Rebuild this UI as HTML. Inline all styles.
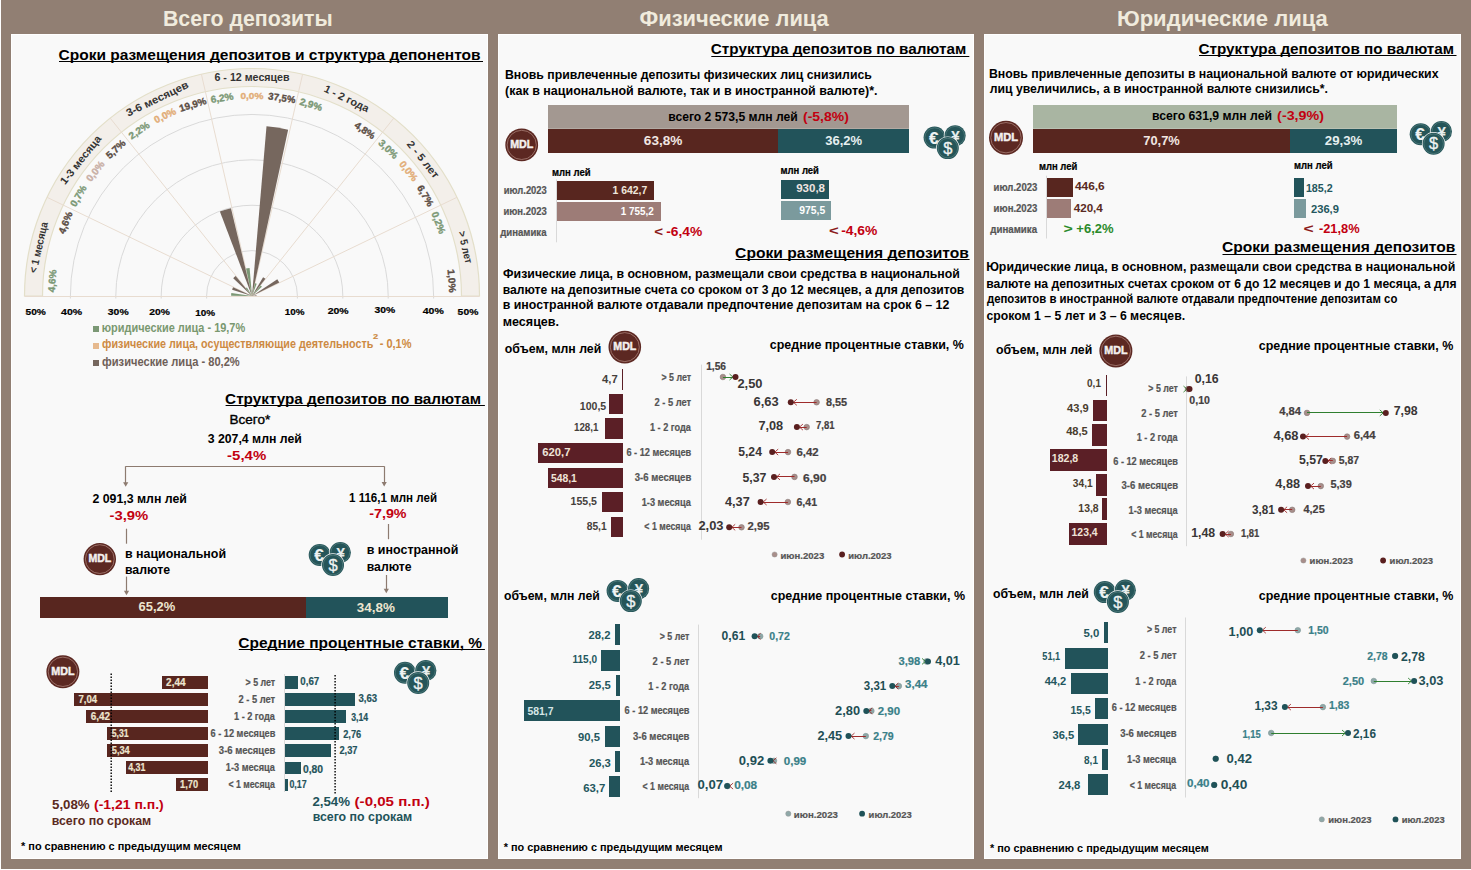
<!DOCTYPE html>
<html><head><meta charset="utf-8"><title>Депозиты</title>
<style>
html,body{margin:0;padding:0;background:#ffffff;}
body{width:1471px;height:870px;overflow:hidden;}
svg{display:block;font-family:"Liberation Sans",sans-serif;font-weight:700;}
</style></head><body>
<svg width="1471" height="870" viewBox="0 0 1471 870">
<rect shape-rendering="crispEdges" x="1.0" y="0.0" width="1470.0" height="869.0" fill="#917f73" />
<rect x="11.5" y="34.5" width="476" height="824" fill="#f9f9f9" stroke="#ffffff" stroke-width="1"/>
<rect x="498.5" y="34.5" width="475" height="824" fill="#f9f9f9" stroke="#ffffff" stroke-width="1"/>
<rect x="984.5" y="34.5" width="476" height="824" fill="#f9f9f9" stroke="#ffffff" stroke-width="1"/>
<text x="162.97" y="25.8" font-size="21.5" fill="#f0ebdd" textLength="169.75" lengthAdjust="spacingAndGlyphs" >Всего депозиты</text>
<text x="639.52" y="25.6" font-size="21.5" fill="#f0ebdd" textLength="189.25" lengthAdjust="spacingAndGlyphs" >Физические лица</text>
<text x="1116.92" y="25.6" font-size="21.5" fill="#f0ebdd" textLength="210.94" lengthAdjust="spacingAndGlyphs" >Юридические лица</text>
<text x="58.52" y="59.6" font-size="15.5" fill="#000" textLength="422.05" lengthAdjust="spacingAndGlyphs" >Сроки размещения депозитов и структура депонентов</text>
<line x1="59.0" y1="61.5" x2="483.0" y2="61.5" stroke="#000" stroke-width="1.1" />
<path d="M24.5,296.0 A227.5,227.5 0 0 1 479.5,296.0 L461.5,296.0 A209.5,209.5 0 0 0 42.5,296.0 Z" fill="#f3efea" stroke="#e3dfc9" stroke-width="1.2"/>
<path d="M206.6,298.5 L206.6,296.0 A45.4,45.4 0 0 1 297.4,296.0 L297.4,298.5" fill="none" stroke="#d6d6d6" stroke-width="0.9"/>
<path d="M161.2,298.5 L161.2,296.0 A90.8,90.8 0 0 1 342.8,296.0 L342.8,298.5" fill="none" stroke="#d6d6d6" stroke-width="0.9"/>
<path d="M115.8,298.5 L115.8,296.0 A136.2,136.2 0 0 1 388.2,296.0 L388.2,298.5" fill="none" stroke="#d6d6d6" stroke-width="0.9"/>
<path d="M70.4,298.5 L70.4,296.0 A181.6,181.6 0 0 1 433.6,296.0 L433.6,298.5" fill="none" stroke="#d6d6d6" stroke-width="0.9"/>
<line x1="252.0" y1="296.0" x2="47.0" y2="197.3" stroke="#e8dcd0" stroke-width="1" />
<line x1="252.0" y1="296.0" x2="110.2" y2="118.1" stroke="#e8dcd0" stroke-width="1" />
<line x1="252.0" y1="296.0" x2="201.4" y2="74.2" stroke="#e8dcd0" stroke-width="1" />
<line x1="252.0" y1="296.0" x2="302.6" y2="74.2" stroke="#e8dcd0" stroke-width="1" />
<line x1="252.0" y1="296.0" x2="393.8" y2="118.1" stroke="#e8dcd0" stroke-width="1" />
<line x1="252.0" y1="296.0" x2="457.0" y2="197.3" stroke="#e8dcd0" stroke-width="1" />
<line x1="24.5" y1="296.5" x2="479.5" y2="296.5" stroke="#e8dcd0" stroke-width="1.2" />
<path d="M252.0,296.0 L231.12,295.78 A20.88,20.88 0 0 1 231.32,293.10 Z" fill="#7b9875"/>
<path d="M252.0,296.0 L232.11,289.64 A20.88,20.88 0 0 1 233.09,287.14 Z" fill="#76675e"/>
<path d="M252.0,296.0 L249.15,294.59 A3.18,3.18 0 0 1 249.36,294.24 Z" fill="#7b9875"/>
<path d="M252.0,296.0 L233.22,278.20 A25.88,25.88 0 0 1 235.65,275.94 Z" fill="#76675e"/>
<path d="M252.0,296.0 L245.85,288.13 A9.99,9.99 0 0 1 246.92,287.40 Z" fill="#7b9875"/>
<path d="M252.0,296.0 L219.88,211.56 A90.35,90.35 0 0 1 230.97,208.13 Z" fill="#76675e"/>
<path d="M252.0,296.0 L246.02,268.49 A28.15,28.15 0 0 1 249.60,267.95 Z" fill="#7b9875"/>
<path d="M252.0,296.0 L266.50,126.37 A170.25,170.25 0 0 1 288.14,129.63 Z" fill="#76675e"/>
<path d="M252.0,296.0 L255.06,283.20 A13.17,13.17 0 0 1 256.68,283.69 Z" fill="#7b9875"/>
<path d="M252.0,296.0 L263.09,277.24 A21.79,21.79 0 0 1 265.41,278.82 Z" fill="#76675e"/>
<path d="M252.0,296.0 L260.60,285.44 A13.62,13.62 0 0 1 261.89,286.63 Z" fill="#7b9875"/>
<path d="M252.0,296.0 L277.31,279.13 A30.42,30.42 0 0 1 279.27,282.52 Z" fill="#76675e"/>
<path d="M252.0,296.0 L252.82,295.61 A0.91,0.91 0 0 1 252.86,295.72 Z" fill="#7b9875"/>
<path d="M252.0,296.0 L256.50,295.37 A4.54,4.54 0 0 1 256.54,295.95 Z" fill="#76675e"/>
<text x="16.04" y="248.1" font-size="10.6" fill="#333333" textLength="51.94" lengthAdjust="spacingAndGlyphs" transform="rotate(-77.14 42.2 248.1)"  >&lt; 1 месяца</text>
<text x="53.81" y="161.8" font-size="10.6" fill="#333333" textLength="59.12" lengthAdjust="spacingAndGlyphs" transform="rotate(-51.43 83.7 161.8)"  >1-3 месяца</text>
<text x="124.80" y="102.1" font-size="10.6" fill="#333333" textLength="67.90" lengthAdjust="spacingAndGlyphs" transform="rotate(-25.71 158.6 102.1)"  >3-6 месяцев</text>
<text x="214.47" y="80.8" font-size="10.6" fill="#333333" textLength="75.12" lengthAdjust="spacingAndGlyphs"  >6 - 12 месяцев</text>
<text x="320.69" y="102.1" font-size="10.6" fill="#333333" textLength="48.61" lengthAdjust="spacingAndGlyphs" transform="rotate(25.71 345.4 102.1)"  >1 - 2 года</text>
<text x="397.90" y="161.8" font-size="10.6" fill="#333333" textLength="44.59" lengthAdjust="spacingAndGlyphs" transform="rotate(51.43 420.3 161.8)"  >2 - 5 лет</text>
<text x="445.35" y="248.1" font-size="10.6" fill="#333333" textLength="32.81" lengthAdjust="spacingAndGlyphs" transform="rotate(77.14 461.8 248.1)"  >&gt; 5 лет</text>
<text x="44.30" y="281.3" font-size="9.8" fill="#7b9875" textLength="22.64" lengthAdjust="spacingAndGlyphs" transform="rotate(-85.71 55.6 281.3)" stroke="#7b9875" stroke-width="0.35">4,6%</text>
<text x="57.37" y="224.0" font-size="9.8" fill="#5b4d44" textLength="22.64" lengthAdjust="spacingAndGlyphs" transform="rotate(-68.57 68.6 224.0)" stroke="#5b4d44" stroke-width="0.35">4,6%</text>
<text x="69.83" y="197.5" font-size="9.8" fill="#7b9875" textLength="22.96" lengthAdjust="spacingAndGlyphs" transform="rotate(-60.00 81.4 197.5)" stroke="#7b9875" stroke-width="0.35">0,7%</text>
<text x="86.41" y="173.2" font-size="9.8" fill="#c9b0a6" textLength="22.96" lengthAdjust="spacingAndGlyphs" transform="rotate(-51.43 98.0 173.2)" stroke="#c9b0a6" stroke-width="0.35">0,0%</text>
<text x="106.60" y="151.6" font-size="9.8" fill="#5b4d44" textLength="22.80" lengthAdjust="spacingAndGlyphs" transform="rotate(-42.86 118.0 151.6)" stroke="#5b4d44" stroke-width="0.35">5,7%</text>
<text x="129.46" y="133.2" font-size="9.8" fill="#7b9875" textLength="22.96" lengthAdjust="spacingAndGlyphs" transform="rotate(-34.29 141.0 133.2)" stroke="#7b9875" stroke-width="0.35">2,2%</text>
<text x="154.96" y="118.5" font-size="9.8" fill="#e2ad77" textLength="22.96" lengthAdjust="spacingAndGlyphs" transform="rotate(-25.71 166.5 118.5)" stroke="#e2ad77" stroke-width="0.35">0,0%</text>
<text x="179.82" y="107.8" font-size="9.8" fill="#5b4d44" textLength="27.75" lengthAdjust="spacingAndGlyphs" transform="rotate(-17.14 193.9 107.8)" stroke="#5b4d44" stroke-width="0.35">19,9%</text>
<text x="211.07" y="101.2" font-size="9.8" fill="#7b9875" textLength="22.96" lengthAdjust="spacingAndGlyphs" transform="rotate(-8.57 222.6 101.2)" stroke="#7b9875" stroke-width="0.35">6,2%</text>
<text x="240.44" y="99.0" font-size="9.8" fill="#e2ad77" textLength="22.96" lengthAdjust="spacingAndGlyphs" stroke="#e2ad77" stroke-width="0.35">0,0%</text>
<text x="267.71" y="101.2" font-size="9.8" fill="#5b4d44" textLength="27.29" lengthAdjust="spacingAndGlyphs" transform="rotate(8.57 281.4 101.2)" stroke="#5b4d44" stroke-width="0.35">37,5%</text>
<text x="298.50" y="107.8" font-size="9.8" fill="#7b9875" textLength="22.96" lengthAdjust="spacingAndGlyphs" transform="rotate(17.14 310.1 107.8)" stroke="#7b9875" stroke-width="0.35">2,9%</text>
<text x="351.72" y="133.2" font-size="9.8" fill="#5b4d44" textLength="22.64" lengthAdjust="spacingAndGlyphs" transform="rotate(34.29 363.0 133.2)" stroke="#5b4d44" stroke-width="0.35">4,8%</text>
<text x="374.59" y="151.6" font-size="9.8" fill="#7b9875" textLength="22.80" lengthAdjust="spacingAndGlyphs" transform="rotate(42.86 386.0 151.6)" stroke="#7b9875" stroke-width="0.35">3,0%</text>
<text x="394.46" y="173.2" font-size="9.8" fill="#e2ad77" textLength="22.96" lengthAdjust="spacingAndGlyphs" transform="rotate(51.43 406.0 173.2)" stroke="#e2ad77" stroke-width="0.35">0,0%</text>
<text x="411.04" y="197.5" font-size="9.8" fill="#5b4d44" textLength="22.96" lengthAdjust="spacingAndGlyphs" transform="rotate(60.00 422.6 197.5)" stroke="#5b4d44" stroke-width="0.35">6,7%</text>
<text x="423.82" y="224.0" font-size="9.8" fill="#7b9875" textLength="22.96" lengthAdjust="spacingAndGlyphs" transform="rotate(68.57 435.4 224.0)" stroke="#7b9875" stroke-width="0.35">0,2%</text>
<text x="436.56" y="281.3" font-size="9.8" fill="#5b4d44" textLength="23.28" lengthAdjust="spacingAndGlyphs" transform="rotate(85.71 448.4 281.3)" stroke="#5b4d44" stroke-width="0.35">1,0%</text>
<text x="25.54" y="314.5" font-size="9.6" fill="#000" textLength="20.40" lengthAdjust="spacingAndGlyphs" stroke="#000" stroke-width="0.2">50%</text>
<text x="61.10" y="314.5" font-size="9.6" fill="#000" textLength="21.05" lengthAdjust="spacingAndGlyphs" stroke="#000" stroke-width="0.2">40%</text>
<text x="107.84" y="314.5" font-size="9.6" fill="#000" textLength="20.81" lengthAdjust="spacingAndGlyphs" stroke="#000" stroke-width="0.2">30%</text>
<text x="149.38" y="314.5" font-size="9.6" fill="#000" textLength="20.57" lengthAdjust="spacingAndGlyphs" stroke="#000" stroke-width="0.2">20%</text>
<text x="195.28" y="315.8" font-size="9.6" fill="#000" textLength="19.86" lengthAdjust="spacingAndGlyphs" stroke="#000" stroke-width="0.2">10%</text>
<text x="284.78" y="314.8" font-size="9.6" fill="#000" textLength="19.76" lengthAdjust="spacingAndGlyphs" stroke="#000" stroke-width="0.2">10%</text>
<text x="327.67" y="313.7" font-size="9.6" fill="#000" textLength="20.98" lengthAdjust="spacingAndGlyphs" stroke="#000" stroke-width="0.2">20%</text>
<text x="374.44" y="312.8" font-size="9.6" fill="#000" textLength="20.71" lengthAdjust="spacingAndGlyphs" stroke="#000" stroke-width="0.2">30%</text>
<text x="422.70" y="313.7" font-size="9.6" fill="#000" textLength="21.05" lengthAdjust="spacingAndGlyphs" stroke="#000" stroke-width="0.2">40%</text>
<text x="457.64" y="314.8" font-size="9.6" fill="#000" textLength="20.71" lengthAdjust="spacingAndGlyphs" stroke="#000" stroke-width="0.2">50%</text>
<rect shape-rendering="crispEdges" x="93.0" y="325.6" width="6.0" height="6.0" fill="#7b9875" />
<rect shape-rendering="crispEdges" x="93.0" y="342.5" width="6.0" height="6.0" fill="#e6b98e" />
<rect shape-rendering="crispEdges" x="93.0" y="359.7" width="6.0" height="6.0" fill="#76675e" />
<text x="101.72" y="331.6" font-size="12.4" fill="#7a9870" textLength="143.44" lengthAdjust="spacingAndGlyphs" >юридические лица - 19,7%</text>
<text x="102.06" y="348.4" font-size="12.4" fill="#cd8a43" textLength="271.33" lengthAdjust="spacingAndGlyphs" >физические лица, осуществляющие деятельность</text>
<text x="372.91" y="339.2" font-size="7.5" fill="#cd8a43" textLength="5.12" lengthAdjust="spacingAndGlyphs" stroke="#cd8a43" stroke-width="0.2">2</text>
<text x="379.66" y="348.4" font-size="12.4" fill="#cd8a43" textLength="31.80" lengthAdjust="spacingAndGlyphs" >- 0,1%</text>
<text x="102.05" y="365.9" font-size="12.4" fill="#6e6058" textLength="137.70" lengthAdjust="spacingAndGlyphs" >физические лица - 80,2%</text>
<text x="225.12" y="403.7" font-size="15.5" fill="#000" textLength="255.91" lengthAdjust="spacingAndGlyphs" >Структура депозитов по валютам</text>
<line x1="225.6" y1="405.5" x2="484.9" y2="405.5" stroke="#000" stroke-width="1.1" />
<text x="229.55" y="424.4" font-size="12.0" fill="#000" font-weight="400" textLength="40.65" lengthAdjust="spacingAndGlyphs" stroke="#000" stroke-width="0.35">Всего*</text>
<text x="207.71" y="442.8" font-size="13.6" fill="#000" textLength="94.13" lengthAdjust="spacingAndGlyphs" >3 207,4 млн лей</text>
<text x="227.13" y="459.9" font-size="13.6" fill="#c20010" textLength="39.08" lengthAdjust="spacingAndGlyphs" >-5,4%</text>
<line x1="125.7" y1="466.5" x2="384.2" y2="466.5" stroke="#8d7b70" stroke-width="1.2" />
<line x1="125.5" y1="466.2" x2="125.5" y2="483.3" stroke="#8d7b70" stroke-width="1.2" />
<path d="M123.1,482.3 L128.3,482.3 L125.7,486.8 Z" fill="#8d7b70"/>
<line x1="384.5" y1="466.2" x2="384.5" y2="483.0" stroke="#8d7b70" stroke-width="1.2" />
<path d="M381.6,482.0 L386.8,482.0 L384.2,486.5 Z" fill="#8d7b70"/>
<text x="92.41" y="502.9" font-size="13.6" fill="#000" textLength="94.52" lengthAdjust="spacingAndGlyphs" >2 091,3 млн лей</text>
<text x="109.44" y="519.7" font-size="13.6" fill="#c20010" textLength="38.77" lengthAdjust="spacingAndGlyphs" >-3,9%</text>
<line x1="126.5" y1="528.7" x2="126.5" y2="543.7" stroke="#8d7b70" stroke-width="1.2" />
<line x1="126.5" y1="576.6" x2="126.5" y2="591.8" stroke="#8d7b70" stroke-width="1.2" />
<path d="M123.9,590.8 L129.1,590.8 L126.5,595.3 Z" fill="#8d7b70"/>
<text x="348.98" y="501.7" font-size="13.6" fill="#000" textLength="88.11" lengthAdjust="spacingAndGlyphs" >1 116,1 млн лей</text>
<text x="369.25" y="518.3" font-size="13.6" fill="#c20010" textLength="37.25" lengthAdjust="spacingAndGlyphs" >-7,9%</text>
<line x1="388.5" y1="524.0" x2="388.5" y2="539.2" stroke="#8d7b70" stroke-width="1.2" />
<line x1="386.5" y1="575.0" x2="386.5" y2="589.8" stroke="#8d7b70" stroke-width="1.2" />
<path d="M383.7,588.8 L388.9,588.8 L386.3,593.3 Z" fill="#8d7b70"/>
<circle cx="99.8" cy="559.1" r="16.2" fill="#5c2822" />
<circle cx="99.8" cy="559.1" r="14.4" fill="none" stroke="#a87f76" stroke-width="0.8" />
<text x="88.42" y="561.9" font-size="10.7" fill="#f4f0ee" textLength="22.87" lengthAdjust="spacingAndGlyphs" stroke="#f4f0ee" stroke-width="0.45">MDL</text>
<text x="124.92" y="557.6" font-size="12.8" fill="#000" textLength="101.12" lengthAdjust="spacingAndGlyphs" >в национальной</text>
<text x="124.93" y="573.6" font-size="12.8" fill="#000" textLength="45.18" lengthAdjust="spacingAndGlyphs" >валюте</text>
<circle cx="319.7" cy="555.0" r="11.7" fill="#f9f9f9" />
<circle cx="319.7" cy="555.0" r="11.0" fill="#255559" />
<circle cx="319.7" cy="555.0" r="9.8" fill="none" stroke="#55807f" stroke-width="0.7" />
<text x="318.9" y="561.0" font-size="17" fill="#eef2f2" stroke="#eef2f2" stroke-width="0.2" text-anchor="middle">€</text>
<circle cx="340.3" cy="552.5" r="11.3" fill="#f9f9f9" />
<circle cx="340.3" cy="552.5" r="10.6" fill="#255559" />
<circle cx="340.3" cy="552.5" r="9.4" fill="none" stroke="#55807f" stroke-width="0.7" />
<text x="340.6" y="557.5" font-size="15" fill="#e8eeee" stroke="#e8eeee" stroke-width="0.2" text-anchor="middle">¥</text>
<circle cx="333.0" cy="565.0" r="11.7" fill="#f9f9f9" />
<circle cx="333.0" cy="565.0" r="11.0" fill="#255559" />
<circle cx="333.0" cy="565.0" r="9.8" fill="none" stroke="#55807f" stroke-width="0.7" />
<text x="333.0" y="570.6" font-size="16.5" font-weight="400" fill="#eef2f2" stroke="#eef2f2" stroke-width="0.3" text-anchor="middle">$</text>
<text x="366.72" y="554.2" font-size="12.8" fill="#000" textLength="91.62" lengthAdjust="spacingAndGlyphs" >в иностранной</text>
<text x="366.74" y="570.8" font-size="12.8" fill="#000" textLength="44.87" lengthAdjust="spacingAndGlyphs" >валюте</text>
<rect shape-rendering="crispEdges" x="40.2" y="597.1" width="265.6" height="20.5" fill="#58261f" />
<rect shape-rendering="crispEdges" x="305.8" y="597.1" width="141.7" height="20.5" fill="#22535a" />
<text x="138.50" y="611.4" font-size="12.8" fill="#ede5cf" textLength="36.69" lengthAdjust="spacingAndGlyphs" >65,2%</text>
<text x="356.79" y="611.7" font-size="12.8" fill="#ede5cf" textLength="38.10" lengthAdjust="spacingAndGlyphs" >34,8%</text>
<text x="238.32" y="647.6" font-size="15.5" fill="#000" textLength="243.80" lengthAdjust="spacingAndGlyphs" >Средние процентные ставки, %</text>
<line x1="238.8" y1="649.5" x2="484.9" y2="649.5" stroke="#000" stroke-width="1.1" />
<circle cx="62.9" cy="671.8" r="16.5" fill="#5c2822" />
<circle cx="62.9" cy="671.8" r="14.7" fill="none" stroke="#a87f76" stroke-width="0.8" />
<text x="51.31" y="674.6" font-size="10.9" fill="#f4f0ee" textLength="23.30" lengthAdjust="spacingAndGlyphs" stroke="#f4f0ee" stroke-width="0.45">MDL</text>
<circle cx="405.0" cy="672.7" r="11.7" fill="#f9f9f9" />
<circle cx="405.0" cy="672.7" r="11.0" fill="#255559" />
<circle cx="405.0" cy="672.7" r="9.8" fill="none" stroke="#55807f" stroke-width="0.7" />
<text x="404.2" y="678.7" font-size="17" fill="#eef2f2" stroke="#eef2f2" stroke-width="0.2" text-anchor="middle">€</text>
<circle cx="425.8" cy="670.6" r="11.3" fill="#f9f9f9" />
<circle cx="425.8" cy="670.6" r="10.6" fill="#255559" />
<circle cx="425.8" cy="670.6" r="9.4" fill="none" stroke="#55807f" stroke-width="0.7" />
<text x="426.1" y="675.6" font-size="15" fill="#e8eeee" stroke="#e8eeee" stroke-width="0.2" text-anchor="middle">¥</text>
<circle cx="418.2" cy="683.0" r="11.7" fill="#f9f9f9" />
<circle cx="418.2" cy="683.0" r="11.0" fill="#255559" />
<circle cx="418.2" cy="683.0" r="9.8" fill="none" stroke="#55807f" stroke-width="0.7" />
<text x="418.2" y="688.6" font-size="16.5" font-weight="400" fill="#eef2f2" stroke="#eef2f2" stroke-width="0.3" text-anchor="middle">$</text>
<rect shape-rendering="crispEdges" x="161.6" y="675.9" width="46.4" height="12.9" fill="#58261f" />
<text x="166.09" y="685.6" font-size="10.6" fill="#ede5cf" textLength="19.45" lengthAdjust="spacingAndGlyphs" stroke="#ede5cf" stroke-width="0.2">2,44</text>
<rect shape-rendering="crispEdges" x="285.0" y="676.1" width="13.0" height="12.6" fill="#22535a" />
<text x="300.30" y="684.9" font-size="10.6" fill="#24535b" textLength="18.90" lengthAdjust="spacingAndGlyphs" stroke="#24535b" stroke-width="0.2">0,67</text>
<text x="245.62" y="685.6" font-size="10.1" fill="#555555" textLength="29.56" lengthAdjust="spacingAndGlyphs" stroke="#555555" stroke-width="0.2">&gt; 5 лет</text>
<rect shape-rendering="crispEdges" x="74.2" y="693.0" width="133.8" height="12.9" fill="#58261f" />
<text x="78.50" y="702.7" font-size="10.6" fill="#ede5cf" textLength="18.64" lengthAdjust="spacingAndGlyphs" stroke="#ede5cf" stroke-width="0.2">7,04</text>
<rect shape-rendering="crispEdges" x="285.0" y="693.2" width="70.4" height="12.6" fill="#22535a" />
<text x="358.45" y="701.9" font-size="10.6" fill="#24535b" textLength="18.69" lengthAdjust="spacingAndGlyphs" stroke="#24535b" stroke-width="0.2">3,63</text>
<text x="238.51" y="702.6" font-size="10.1" fill="#555555" textLength="36.69" lengthAdjust="spacingAndGlyphs" stroke="#555555" stroke-width="0.2">2 - 5 лет</text>
<rect shape-rendering="crispEdges" x="86.0" y="710.0" width="122.0" height="12.9" fill="#58261f" />
<text x="90.69" y="719.7" font-size="10.6" fill="#ede5cf" textLength="19.36" lengthAdjust="spacingAndGlyphs" stroke="#ede5cf" stroke-width="0.2">6,42</text>
<rect shape-rendering="crispEdges" x="285.0" y="710.2" width="60.9" height="12.6" fill="#22535a" />
<text x="351.16" y="720.6" font-size="10.6" fill="#24535b" textLength="16.88" lengthAdjust="spacingAndGlyphs" stroke="#24535b" stroke-width="0.2">3,14</text>
<text x="234.03" y="719.6" font-size="10.1" fill="#555555" textLength="40.91" lengthAdjust="spacingAndGlyphs" stroke="#555555" stroke-width="0.2">1 - 2 года</text>
<rect shape-rendering="crispEdges" x="107.1" y="727.1" width="100.9" height="12.9" fill="#58261f" />
<text x="111.76" y="736.8" font-size="10.6" fill="#ede5cf" textLength="16.95" lengthAdjust="spacingAndGlyphs" stroke="#ede5cf" stroke-width="0.2">5,31</text>
<rect shape-rendering="crispEdges" x="285.0" y="727.3" width="53.5" height="12.6" fill="#22535a" />
<text x="343.21" y="737.6" font-size="10.6" fill="#24535b" textLength="17.92" lengthAdjust="spacingAndGlyphs" stroke="#24535b" stroke-width="0.2">2,76</text>
<text x="210.51" y="736.7" font-size="10.1" fill="#555555" textLength="64.82" lengthAdjust="spacingAndGlyphs" stroke="#555555" stroke-width="0.2">6 - 12 месяцев</text>
<rect shape-rendering="crispEdges" x="106.5" y="744.2" width="101.5" height="12.9" fill="#58261f" />
<text x="111.76" y="753.9" font-size="10.6" fill="#ede5cf" textLength="17.99" lengthAdjust="spacingAndGlyphs" stroke="#ede5cf" stroke-width="0.2">5,34</text>
<rect shape-rendering="crispEdges" x="285.0" y="744.4" width="46.0" height="12.6" fill="#22535a" />
<text x="339.41" y="753.8" font-size="10.6" fill="#24535b" textLength="18.07" lengthAdjust="spacingAndGlyphs" stroke="#24535b" stroke-width="0.2">2,37</text>
<text x="218.85" y="753.5" font-size="10.1" fill="#555555" textLength="56.50" lengthAdjust="spacingAndGlyphs" stroke="#555555" stroke-width="0.2">3-6 месяцев</text>
<rect shape-rendering="crispEdges" x="126.1" y="761.2" width="81.9" height="12.9" fill="#58261f" />
<text x="128.20" y="771.0" font-size="10.6" fill="#ede5cf" textLength="17.22" lengthAdjust="spacingAndGlyphs" stroke="#ede5cf" stroke-width="0.2">4,31</text>
<rect shape-rendering="crispEdges" x="285.0" y="761.5" width="15.5" height="12.6" fill="#22535a" />
<text x="302.88" y="772.9" font-size="10.6" fill="#24535b" textLength="20.14" lengthAdjust="spacingAndGlyphs" stroke="#24535b" stroke-width="0.2">0,80</text>
<text x="225.82" y="770.5" font-size="10.1" fill="#555555" textLength="49.12" lengthAdjust="spacingAndGlyphs" stroke="#555555" stroke-width="0.2">1-3 месяца</text>
<rect shape-rendering="crispEdges" x="175.7" y="778.3" width="32.3" height="12.9" fill="#58261f" />
<text x="180.12" y="788.0" font-size="10.6" fill="#ede5cf" textLength="18.06" lengthAdjust="spacingAndGlyphs" stroke="#ede5cf" stroke-width="0.2">1,70</text>
<rect shape-rendering="crispEdges" x="285.0" y="778.5" width="3.3" height="12.6" fill="#22535a" />
<text x="289.42" y="788.4" font-size="10.6" fill="#24535b" textLength="17.24" lengthAdjust="spacingAndGlyphs" stroke="#24535b" stroke-width="0.2">0,17</text>
<text x="228.43" y="787.6" font-size="10.1" fill="#555555" textLength="46.52" lengthAdjust="spacingAndGlyphs" stroke="#555555" stroke-width="0.2">&lt; 1 месяца</text>
<line x1="284.5" y1="674.0" x2="284.5" y2="792.0" stroke="#d0d0d0" stroke-width="0.8" />
<line x1="111.2" y1="673.6" x2="111.2" y2="792.4" stroke="#000" stroke-width="1.4" stroke-dasharray="1.4 1.6"/>
<line x1="335.1" y1="675.0" x2="335.1" y2="793.6" stroke="#000" stroke-width="1.4" stroke-dasharray="1.4 1.6"/>
<text x="51.99" y="808.5" font-size="13.4" fill="#5a2a22" textLength="37.70" lengthAdjust="spacingAndGlyphs" >5,08%</text>
<text x="94.05" y="808.5" font-size="13.4" fill="#c20010" textLength="69.66" lengthAdjust="spacingAndGlyphs" >(-1,21 п.п.)</text>
<text x="51.73" y="824.6" font-size="12.8" fill="#5a2a22" textLength="99.51" lengthAdjust="spacingAndGlyphs" >всего по срокам</text>
<text x="312.39" y="805.6" font-size="13.4" fill="#22535a" textLength="37.60" lengthAdjust="spacingAndGlyphs" >2,54%</text>
<text x="354.59" y="805.6" font-size="13.4" fill="#c20010" textLength="75.25" lengthAdjust="spacingAndGlyphs" >(-0,05 п.п.)</text>
<text x="312.63" y="821.3" font-size="12.8" fill="#22535a" textLength="99.51" lengthAdjust="spacingAndGlyphs" >всего по срокам</text>
<text x="21.00" y="849.5" font-size="11.2" fill="#000" textLength="219.74" lengthAdjust="spacingAndGlyphs" >* по сравнению с предыдущим месяцем</text>
<text x="710.82" y="54.3" font-size="15.5" fill="#000" textLength="255.41" lengthAdjust="spacingAndGlyphs" >Структура депозитов по валютам</text>
<line x1="711.3" y1="56.5" x2="969.3" y2="56.5" stroke="#000" stroke-width="1.1" />
<text x="504.93" y="79.4" font-size="12.8" fill="#000" textLength="366.92" lengthAdjust="spacingAndGlyphs" >Вновь привлеченные депозиты физических лиц снизились</text>
<text x="505.11" y="95.4" font-size="12.8" fill="#000" textLength="372.42" lengthAdjust="spacingAndGlyphs" >(как в национальной валюте, так и в иностранной валюте)*.</text>
<rect shape-rendering="crispEdges" x="547.9" y="105.2" width="361.0" height="23.7" fill="#a39891" />
<rect shape-rendering="crispEdges" x="547.9" y="128.9" width="230.1" height="23.7" fill="#58261f" />
<rect shape-rendering="crispEdges" x="778.0" y="128.9" width="130.9" height="23.7" fill="#22535a" />
<rect shape-rendering="crispEdges" x="547.9" y="128.0" width="361.0" height="1.0" fill="#b2aaa3" />
<text x="668.24" y="120.6" font-size="12.8" fill="#000" textLength="129.48" lengthAdjust="spacingAndGlyphs" >всего 2 573,5 млн лей</text>
<text x="803.05" y="120.6" font-size="12.8" fill="#c20010" textLength="45.76" lengthAdjust="spacingAndGlyphs" >(-5,8%)</text>
<text x="643.88" y="145.2" font-size="12.8" fill="#f2e6e2" textLength="38.52" lengthAdjust="spacingAndGlyphs" >63,8%</text>
<text x="825.20" y="145.0" font-size="12.8" fill="#e6eff0" textLength="36.89" lengthAdjust="spacingAndGlyphs" >36,2%</text>
<circle cx="521.7" cy="144.9" r="16.4" fill="#5c2822" />
<circle cx="521.7" cy="144.9" r="14.6" fill="none" stroke="#a87f76" stroke-width="0.8" />
<text x="510.18" y="147.7" font-size="10.8" fill="#f4f0ee" textLength="23.15" lengthAdjust="spacingAndGlyphs" stroke="#f4f0ee" stroke-width="0.45">MDL</text>
<circle cx="934.6" cy="137.6" r="11.7" fill="#f9f9f9" />
<circle cx="934.6" cy="137.6" r="11.0" fill="#255559" />
<circle cx="934.6" cy="137.6" r="9.8" fill="none" stroke="#55807f" stroke-width="0.7" />
<text x="933.8" y="143.6" font-size="17" fill="#eef2f2" stroke="#eef2f2" stroke-width="0.2" text-anchor="middle">€</text>
<circle cx="955.1" cy="135.8" r="11.3" fill="#f9f9f9" />
<circle cx="955.1" cy="135.8" r="10.6" fill="#255559" />
<circle cx="955.1" cy="135.8" r="9.4" fill="none" stroke="#55807f" stroke-width="0.7" />
<text x="955.4" y="140.8" font-size="15" fill="#e8eeee" stroke="#e8eeee" stroke-width="0.2" text-anchor="middle">¥</text>
<circle cx="947.8" cy="148.1" r="11.7" fill="#f9f9f9" />
<circle cx="947.8" cy="148.1" r="11.0" fill="#255559" />
<circle cx="947.8" cy="148.1" r="9.8" fill="none" stroke="#55807f" stroke-width="0.7" />
<text x="947.8" y="153.7" font-size="16.5" font-weight="400" fill="#eef2f2" stroke="#eef2f2" stroke-width="0.3" text-anchor="middle">$</text>
<text x="552.00" y="175.6" font-size="10" fill="#000" textLength="38.64" lengthAdjust="spacingAndGlyphs" stroke="#000" stroke-width="0.2">млн лей</text>
<text x="780.41" y="173.6" font-size="10" fill="#000" textLength="38.54" lengthAdjust="spacingAndGlyphs" stroke="#000" stroke-width="0.2">млн лей</text>
<line x1="556.5" y1="179.4" x2="556.5" y2="242.3" stroke="#d0d0d0" stroke-width="0.8" />
<rect shape-rendering="crispEdges" x="557.1" y="181.2" width="96.7" height="18.4" fill="#58261f" />
<rect shape-rendering="crispEdges" x="557.1" y="202.2" width="103.9" height="18.4" fill="#9d7c77" />
<text x="612.55" y="193.7" font-size="11.6" fill="#efe6dc" textLength="34.67" lengthAdjust="spacingAndGlyphs" >1 642,7</text>
<text x="620.78" y="214.6" font-size="11.6" fill="#ffffff" textLength="32.96" lengthAdjust="spacingAndGlyphs" >1 755,2</text>
<text x="503.71" y="193.7" font-size="10" fill="#555555" textLength="43.12" lengthAdjust="spacingAndGlyphs" stroke="#555555" stroke-width="0.2">июл.2023</text>
<text x="503.41" y="214.6" font-size="10" fill="#555555" textLength="43.43" lengthAdjust="spacingAndGlyphs" stroke="#555555" stroke-width="0.2">июн.2023</text>
<text x="500.20" y="235.5" font-size="10" fill="#555555" textLength="46.34" lengthAdjust="spacingAndGlyphs" stroke="#555555" stroke-width="0.2">динамика</text>
<text x="654.23" y="235.5" font-size="13" fill="#8b1c1c" textLength="8.83" lengthAdjust="spacingAndGlyphs" >&lt;</text>
<text x="666.27" y="235.5" font-size="13" fill="#c20010" textLength="36.03" lengthAdjust="spacingAndGlyphs" >-6,4%</text>
<rect shape-rendering="crispEdges" x="781.0" y="180.0" width="47.9" height="18.8" fill="#22535a" />
<rect shape-rendering="crispEdges" x="781.0" y="201.0" width="50.0" height="18.8" fill="#7b9a9d" />
<text x="796.24" y="192.2" font-size="11.6" fill="#f0e4e0" textLength="28.75" lengthAdjust="spacingAndGlyphs" >930,8</text>
<text x="799.28" y="213.5" font-size="11.6" fill="#ffffff" textLength="25.98" lengthAdjust="spacingAndGlyphs" >975,5</text>
<text x="829.08" y="234.7" font-size="13" fill="#8b1c1c" textLength="9.74" lengthAdjust="spacingAndGlyphs" >&lt;</text>
<text x="841.17" y="234.7" font-size="13" fill="#c20010" textLength="36.23" lengthAdjust="spacingAndGlyphs" >-4,6%</text>
<text x="735.11" y="257.6" font-size="15.5" fill="#000" textLength="233.76" lengthAdjust="spacingAndGlyphs" >Сроки размещения депозитов</text>
<line x1="735.6" y1="259.5" x2="969.6" y2="259.5" stroke="#000" stroke-width="1.1" />
<text x="503.12" y="277.9" font-size="12.4" fill="#000" textLength="456.72" lengthAdjust="spacingAndGlyphs" >Физические лица, в основном, размещали свои средства в национальной</text>
<text x="502.74" y="293.8" font-size="12.4" fill="#000" textLength="461.60" lengthAdjust="spacingAndGlyphs" >валюте на депозитные счета со сроком от 3 до 12 месяцев, а для депозитов</text>
<text x="502.73" y="309.3" font-size="12.4" fill="#000" textLength="446.58" lengthAdjust="spacingAndGlyphs" >в иностранной валюте отдавали предпочтение депозитам на срок 6 – 12</text>
<text x="502.72" y="325.7" font-size="12.4" fill="#000" textLength="56.33" lengthAdjust="spacingAndGlyphs" >месяцев.</text>
<text x="504.82" y="352.7" font-size="12.8" fill="#000" textLength="96.42" lengthAdjust="spacingAndGlyphs" >объем, млн лей</text>
<circle cx="624.8" cy="347.1" r="16.3" fill="#5c2822" />
<circle cx="624.8" cy="347.1" r="14.5" fill="none" stroke="#a87f76" stroke-width="0.8" />
<text x="613.35" y="349.9" font-size="10.8" fill="#f4f0ee" textLength="23.01" lengthAdjust="spacingAndGlyphs" stroke="#f4f0ee" stroke-width="0.45">MDL</text>
<text x="769.81" y="349.0" font-size="12.8" fill="#000" textLength="194.07" lengthAdjust="spacingAndGlyphs" >средние процентные ставки, %</text>
<rect shape-rendering="crispEdges" x="622.0" y="369.3" width="0.9" height="20.2" fill="#5b1f26" />
<text x="602.10" y="382.6" font-size="11.4" fill="#45403c" textLength="15.66" lengthAdjust="spacingAndGlyphs" >4,7</text>
<text x="661.52" y="381.1" font-size="10.1" fill="#555555" textLength="29.56" lengthAdjust="spacingAndGlyphs" stroke="#555555" stroke-width="0.2">&gt; 5 лет</text>
<rect shape-rendering="crispEdges" x="609.2" y="393.9" width="13.7" height="20.2" fill="#5b1f26" />
<text x="579.84" y="409.5" font-size="11.4" fill="#45403c" textLength="26.42" lengthAdjust="spacingAndGlyphs" >100,5</text>
<text x="654.41" y="405.8" font-size="10.1" fill="#555555" textLength="36.69" lengthAdjust="spacingAndGlyphs" stroke="#555555" stroke-width="0.2">2 - 5 лет</text>
<rect shape-rendering="crispEdges" x="605.4" y="418.4" width="17.5" height="20.2" fill="#5b1f26" />
<text x="573.99" y="430.9" font-size="11.4" fill="#45403c" textLength="24.45" lengthAdjust="spacingAndGlyphs" >128,1</text>
<text x="649.93" y="430.9" font-size="10.1" fill="#555555" textLength="40.91" lengthAdjust="spacingAndGlyphs" stroke="#555555" stroke-width="0.2">1 - 2 года</text>
<rect shape-rendering="crispEdges" x="538.1" y="443.0" width="84.8" height="20.2" fill="#5b1f26" />
<text x="542.25" y="455.9" font-size="11.4" fill="#efe4d8" textLength="28.21" lengthAdjust="spacingAndGlyphs" >620,7</text>
<text x="626.41" y="455.6" font-size="10.1" fill="#555555" textLength="64.82" lengthAdjust="spacingAndGlyphs" stroke="#555555" stroke-width="0.2">6 - 12 месяцев</text>
<rect shape-rendering="crispEdges" x="548.0" y="467.6" width="74.9" height="20.2" fill="#5b1f26" />
<text x="550.94" y="481.7" font-size="11.4" fill="#efe4d8" textLength="25.92" lengthAdjust="spacingAndGlyphs" >548,1</text>
<text x="634.75" y="480.6" font-size="10.1" fill="#555555" textLength="56.50" lengthAdjust="spacingAndGlyphs" stroke="#555555" stroke-width="0.2">3-6 месяцев</text>
<rect shape-rendering="crispEdges" x="601.7" y="492.1" width="21.2" height="20.2" fill="#5b1f26" />
<text x="570.54" y="505.3" font-size="11.4" fill="#45403c" textLength="26.42" lengthAdjust="spacingAndGlyphs" >155,5</text>
<text x="641.72" y="505.6" font-size="10.1" fill="#555555" textLength="49.12" lengthAdjust="spacingAndGlyphs" stroke="#555555" stroke-width="0.2">1-3 месяца</text>
<rect shape-rendering="crispEdges" x="611.3" y="516.7" width="11.6" height="20.2" fill="#5b1f26" />
<text x="586.68" y="529.5" font-size="11.4" fill="#45403c" textLength="19.98" lengthAdjust="spacingAndGlyphs" >85,1</text>
<text x="644.33" y="530.4" font-size="10.1" fill="#555555" textLength="46.52" lengthAdjust="spacingAndGlyphs" stroke="#555555" stroke-width="0.2">&lt; 1 месяца</text>
<line x1="701.5" y1="364.6" x2="701.5" y2="539.7" stroke="#d0d0d0" stroke-width="0.8" />
<circle cx="722.9" cy="377.0" r="2.8" fill="#a88e8a" stroke="#8a7a78" stroke-width="0.6" />
<line x1="722.9" y1="377.5" x2="732.9" y2="377.5" stroke="#2f7f2f" stroke-width="1.0" />
<path d="M729.5,374.0 L732.9,377.0 L729.5,380.0" fill="none" stroke="#2f7f2f" stroke-width="0.9"/>
<circle cx="735.5" cy="377.0" r="3.0" fill="#5a1f1f" />
<circle cx="816.6" cy="402.3" r="2.8" fill="#a88e8a" stroke="#8a7a78" stroke-width="0.6" />
<line x1="816.6" y1="402.5" x2="793.4" y2="402.5" stroke="#9e2b2b" stroke-width="1.0" />
<path d="M796.8,399.3 L793.4,402.3 L796.8,405.3" fill="none" stroke="#9e2b2b" stroke-width="0.9"/>
<circle cx="790.8" cy="402.3" r="3.0" fill="#5a1f1f" />
<circle cx="806.7" cy="427.1" r="2.8" fill="#a88e8a" stroke="#8a7a78" stroke-width="0.6" />
<line x1="806.7" y1="427.5" x2="799.5" y2="427.5" stroke="#9e2b2b" stroke-width="1.0" />
<path d="M802.9,424.1 L799.5,427.1 L802.9,430.1" fill="none" stroke="#9e2b2b" stroke-width="0.9"/>
<circle cx="796.9" cy="427.1" r="3.0" fill="#5a1f1f" />
<circle cx="788.0" cy="452.1" r="2.8" fill="#a88e8a" stroke="#8a7a78" stroke-width="0.6" />
<line x1="788.0" y1="452.5" x2="774.8" y2="452.5" stroke="#9e2b2b" stroke-width="1.0" />
<path d="M778.2,449.1 L774.8,452.1 L778.2,455.1" fill="none" stroke="#9e2b2b" stroke-width="0.9"/>
<circle cx="772.2" cy="452.1" r="3.0" fill="#5a1f1f" />
<circle cx="794.5" cy="476.9" r="2.8" fill="#a88e8a" stroke="#8a7a78" stroke-width="0.6" />
<line x1="794.5" y1="476.5" x2="776.6" y2="476.5" stroke="#9e2b2b" stroke-width="1.0" />
<path d="M780.0,473.9 L776.6,476.9 L780.0,479.9" fill="none" stroke="#9e2b2b" stroke-width="0.9"/>
<circle cx="774.0" cy="476.9" r="3.0" fill="#5a1f1f" />
<circle cx="787.9" cy="502.0" r="2.8" fill="#a88e8a" stroke="#8a7a78" stroke-width="0.6" />
<line x1="787.9" y1="502.5" x2="763.2" y2="502.5" stroke="#9e2b2b" stroke-width="1.0" />
<path d="M766.6,499.0 L763.2,502.0 L766.6,505.0" fill="none" stroke="#9e2b2b" stroke-width="0.9"/>
<circle cx="760.6" cy="502.0" r="3.0" fill="#5a1f1f" />
<circle cx="741.5" cy="527.3" r="2.8" fill="#a88e8a" stroke="#8a7a78" stroke-width="0.6" />
<line x1="741.5" y1="527.5" x2="731.8" y2="527.5" stroke="#9e2b2b" stroke-width="1.0" />
<path d="M735.2,524.3 L731.8,527.3 L735.2,530.3" fill="none" stroke="#9e2b2b" stroke-width="0.9"/>
<circle cx="729.2" cy="527.3" r="3.0" fill="#5a1f1f" />
<text x="706.16" y="370.3" font-size="10.8" fill="#454040" textLength="19.89" lengthAdjust="spacingAndGlyphs" stroke="#454040" stroke-width="0.2">1,56</text>
<text x="737.40" y="388.0" font-size="13.4" fill="#3a3636" textLength="25.13" lengthAdjust="spacingAndGlyphs" >2,50</text>
<text x="753.60" y="406.1" font-size="13.4" fill="#3a3636" textLength="25.12" lengthAdjust="spacingAndGlyphs" >6,63</text>
<text x="825.96" y="405.8" font-size="10.8" fill="#454040" textLength="21.21" lengthAdjust="spacingAndGlyphs" stroke="#454040" stroke-width="0.2">8,55</text>
<text x="758.40" y="429.9" font-size="13.4" fill="#3a3636" textLength="24.82" lengthAdjust="spacingAndGlyphs" >7,08</text>
<text x="816.10" y="429.4" font-size="10.8" fill="#454040" textLength="18.43" lengthAdjust="spacingAndGlyphs" stroke="#454040" stroke-width="0.2">7,81</text>
<text x="738.21" y="455.6" font-size="13.4" fill="#3a3636" textLength="23.71" lengthAdjust="spacingAndGlyphs" >5,24</text>
<text x="796.44" y="455.6" font-size="10.8" fill="#454040" textLength="22.14" lengthAdjust="spacingAndGlyphs" stroke="#454040" stroke-width="0.2">6,42</text>
<text x="742.41" y="481.6" font-size="13.4" fill="#3a3636" textLength="23.89" lengthAdjust="spacingAndGlyphs" >5,37</text>
<text x="803.12" y="482.0" font-size="10.8" fill="#454040" textLength="23.36" lengthAdjust="spacingAndGlyphs" stroke="#454040" stroke-width="0.2">6,90</text>
<text x="725.00" y="506.4" font-size="13.4" fill="#3a3636" textLength="24.71" lengthAdjust="spacingAndGlyphs" >4,37</text>
<text x="796.47" y="506.4" font-size="10.8" fill="#454040" textLength="20.59" lengthAdjust="spacingAndGlyphs" stroke="#454040" stroke-width="0.2">6,41</text>
<text x="698.40" y="530.2" font-size="13.4" fill="#3a3636" textLength="25.12" lengthAdjust="spacingAndGlyphs" >2,03</text>
<text x="747.55" y="530.2" font-size="10.8" fill="#454040" textLength="21.93" lengthAdjust="spacingAndGlyphs" stroke="#454040" stroke-width="0.2">2,95</text>
<circle cx="774.6" cy="554.5" r="2.6" fill="#a88e8a" stroke="#9a9a9a" stroke-width="0.5" />
<text x="780.40" y="558.7" font-size="9.8" fill="#555555" textLength="43.84" lengthAdjust="spacingAndGlyphs" stroke="#555555" stroke-width="0.2">июн.2023</text>
<circle cx="842.1" cy="554.5" r="2.9" fill="#5a1f1f" />
<text x="848.21" y="558.7" font-size="9.8" fill="#555555" textLength="43.43" lengthAdjust="spacingAndGlyphs" stroke="#555555" stroke-width="0.2">июл.2023</text>
<text x="503.92" y="599.9" font-size="12.8" fill="#000" textLength="95.91" lengthAdjust="spacingAndGlyphs" >объем, млн лей</text>
<circle cx="617.6" cy="590.9" r="11.7" fill="#f9f9f9" />
<circle cx="617.6" cy="590.9" r="11.0" fill="#255559" />
<circle cx="617.6" cy="590.9" r="9.8" fill="none" stroke="#55807f" stroke-width="0.7" />
<text x="616.8" y="596.9" font-size="17" fill="#eef2f2" stroke="#eef2f2" stroke-width="0.2" text-anchor="middle">€</text>
<circle cx="638.6" cy="588.7" r="11.3" fill="#f9f9f9" />
<circle cx="638.6" cy="588.7" r="10.6" fill="#255559" />
<circle cx="638.6" cy="588.7" r="9.4" fill="none" stroke="#55807f" stroke-width="0.7" />
<text x="638.9" y="593.7" font-size="15" fill="#e8eeee" stroke="#e8eeee" stroke-width="0.2" text-anchor="middle">¥</text>
<circle cx="630.8" cy="601.1" r="11.7" fill="#f9f9f9" />
<circle cx="630.8" cy="601.1" r="11.0" fill="#255559" />
<circle cx="630.8" cy="601.1" r="9.8" fill="none" stroke="#55807f" stroke-width="0.7" />
<text x="630.8" y="606.7" font-size="16.5" font-weight="400" fill="#eef2f2" stroke="#eef2f2" stroke-width="0.3" text-anchor="middle">$</text>
<text x="770.71" y="599.7" font-size="12.8" fill="#000" textLength="194.37" lengthAdjust="spacingAndGlyphs" >средние процентные ставки, %</text>
<rect shape-rendering="crispEdges" x="615.0" y="624.1" width="4.9" height="20.5" fill="#22535a" />
<text x="588.55" y="638.8" font-size="11.4" fill="#24575e" textLength="21.93" lengthAdjust="spacingAndGlyphs" >28,2</text>
<text x="659.72" y="639.5" font-size="10.1" fill="#555555" textLength="29.56" lengthAdjust="spacingAndGlyphs" stroke="#555555" stroke-width="0.2">&gt; 5 лет</text>
<rect shape-rendering="crispEdges" x="601.2" y="650.3" width="18.7" height="20.5" fill="#22535a" />
<text x="572.47" y="662.7" font-size="11.4" fill="#24575e" textLength="24.64" lengthAdjust="spacingAndGlyphs" >115,0</text>
<text x="652.61" y="664.5" font-size="10.1" fill="#555555" textLength="36.69" lengthAdjust="spacingAndGlyphs" stroke="#555555" stroke-width="0.2">2 - 5 лет</text>
<rect shape-rendering="crispEdges" x="616.1" y="675.1" width="3.8" height="20.5" fill="#22535a" />
<text x="588.85" y="688.9" font-size="11.4" fill="#24575e" textLength="21.93" lengthAdjust="spacingAndGlyphs" >25,5</text>
<text x="648.13" y="689.7" font-size="10.1" fill="#555555" textLength="40.91" lengthAdjust="spacingAndGlyphs" stroke="#555555" stroke-width="0.2">1 - 2 года</text>
<rect shape-rendering="crispEdges" x="524.2" y="700.2" width="95.7" height="20.5" fill="#22535a" />
<text x="527.44" y="714.7" font-size="11.4" fill="#d6e6e6" textLength="26.09" lengthAdjust="spacingAndGlyphs" >581,7</text>
<text x="624.61" y="714.4" font-size="10.1" fill="#555555" textLength="64.82" lengthAdjust="spacingAndGlyphs" stroke="#555555" stroke-width="0.2">6 - 12 месяцев</text>
<rect shape-rendering="crispEdges" x="605.2" y="726.1" width="14.7" height="20.5" fill="#22535a" />
<text x="578.05" y="740.6" font-size="11.4" fill="#24575e" textLength="21.93" lengthAdjust="spacingAndGlyphs" >90,5</text>
<text x="632.95" y="739.6" font-size="10.1" fill="#555555" textLength="56.50" lengthAdjust="spacingAndGlyphs" stroke="#555555" stroke-width="0.2">3-6 месяцев</text>
<rect shape-rendering="crispEdges" x="615.1" y="751.1" width="4.8" height="20.5" fill="#22535a" />
<text x="588.95" y="766.5" font-size="11.4" fill="#24575e" textLength="21.93" lengthAdjust="spacingAndGlyphs" >26,3</text>
<text x="639.92" y="764.5" font-size="10.1" fill="#555555" textLength="49.12" lengthAdjust="spacingAndGlyphs" stroke="#555555" stroke-width="0.2">1-3 месяца</text>
<rect shape-rendering="crispEdges" x="609.1" y="776.2" width="10.8" height="20.5" fill="#22535a" />
<text x="583.24" y="791.5" font-size="11.4" fill="#24575e" textLength="22.12" lengthAdjust="spacingAndGlyphs" >63,7</text>
<text x="642.53" y="789.5" font-size="10.1" fill="#555555" textLength="46.52" lengthAdjust="spacingAndGlyphs" stroke="#555555" stroke-width="0.2">&lt; 1 месяца</text>
<line x1="698.5" y1="624.6" x2="698.5" y2="798.2" stroke="#d0d0d0" stroke-width="0.8" />
<circle cx="760.2" cy="636.3" r="2.8" fill="#8fa8a8" stroke="#7f9898" stroke-width="0.6" />
<line x1="760.2" y1="636.5" x2="757.2" y2="636.5" stroke="#9e2b2b" stroke-width="1.0" />
<path d="M760.6,633.3 L757.2,636.3 L760.6,639.3" fill="none" stroke="#9e2b2b" stroke-width="0.9"/>
<circle cx="754.6" cy="636.3" r="3.0" fill="#1f5258" />
<circle cx="926.5" cy="661.4" r="2.8" fill="#8fa8a8" stroke="#7f9898" stroke-width="0.6" />
<line x1="926.5" y1="661.5" x2="925.4" y2="661.5" stroke="#2f7f2f" stroke-width="1.0" />
<path d="M922.0,658.4 L925.4,661.4 L922.0,664.4" fill="none" stroke="#2f7f2f" stroke-width="0.9"/>
<circle cx="928.0" cy="661.4" r="3.0" fill="#1f5258" />
<circle cx="898.9" cy="686.1" r="2.8" fill="#8fa8a8" stroke="#7f9898" stroke-width="0.6" />
<line x1="898.9" y1="686.5" x2="894.9" y2="686.5" stroke="#9e2b2b" stroke-width="1.0" />
<path d="M898.3,683.1 L894.9,686.1 L898.3,689.1" fill="none" stroke="#9e2b2b" stroke-width="0.9"/>
<circle cx="892.3" cy="686.1" r="3.0" fill="#1f5258" />
<circle cx="871.4" cy="710.9" r="2.8" fill="#8fa8a8" stroke="#7f9898" stroke-width="0.6" />
<line x1="871.4" y1="710.5" x2="868.9" y2="710.5" stroke="#9e2b2b" stroke-width="1.0" />
<path d="M872.3,707.9 L868.9,710.9 L872.3,713.9" fill="none" stroke="#9e2b2b" stroke-width="0.9"/>
<circle cx="866.3" cy="710.9" r="3.0" fill="#1f5258" />
<circle cx="865.8" cy="736.1" r="2.8" fill="#8fa8a8" stroke="#7f9898" stroke-width="0.6" />
<line x1="865.8" y1="736.5" x2="851.1" y2="736.5" stroke="#9e2b2b" stroke-width="1.0" />
<path d="M854.5,733.1 L851.1,736.1 L854.5,739.1" fill="none" stroke="#9e2b2b" stroke-width="0.9"/>
<circle cx="848.5" cy="736.1" r="3.0" fill="#1f5258" />
<circle cx="774.0" cy="760.8" r="2.8" fill="#8fa8a8" stroke="#7f9898" stroke-width="0.6" />
<path d="M776.4,757.8 L773.0,760.8 L776.4,763.8" fill="none" stroke="#9e2b2b" stroke-width="0.9"/>
<circle cx="770.4" cy="760.8" r="3.0" fill="#1f5258" />
<circle cx="727.6" cy="786.1" r="2.8" fill="#8fa8a8" stroke="#7f9898" stroke-width="0.6" />
<line x1="727.6" y1="786.5" x2="729.7" y2="786.5" stroke="#9e2b2b" stroke-width="1.0" />
<path d="M733.1,783.1 L729.7,786.1 L733.1,789.1" fill="none" stroke="#9e2b2b" stroke-width="0.9"/>
<circle cx="727.1" cy="786.1" r="3.0" fill="#1f5258" />
<text x="721.62" y="639.7" font-size="13.4" fill="#1f4f55" textLength="23.58" lengthAdjust="spacingAndGlyphs" >0,61</text>
<text x="769.27" y="639.7" font-size="10.8" fill="#3a8088" textLength="20.59" lengthAdjust="spacingAndGlyphs" stroke="#3a8088" stroke-width="0.2">0,72</text>
<text x="898.53" y="664.5" font-size="10.8" fill="#3a8088" textLength="21.75" lengthAdjust="spacingAndGlyphs" stroke="#3a8088" stroke-width="0.2">3,98</text>
<text x="935.20" y="664.5" font-size="13.4" fill="#1f4f55" textLength="24.72" lengthAdjust="spacingAndGlyphs" >4,01</text>
<text x="863.82" y="690.1" font-size="13.4" fill="#1f4f55" textLength="22.37" lengthAdjust="spacingAndGlyphs" >3,31</text>
<text x="905.12" y="688.2" font-size="10.8" fill="#3a8088" textLength="22.41" lengthAdjust="spacingAndGlyphs" stroke="#3a8088" stroke-width="0.2">3,44</text>
<text x="835.10" y="715.1" font-size="13.4" fill="#1f4f55" textLength="25.02" lengthAdjust="spacingAndGlyphs" >2,80</text>
<text x="877.74" y="714.7" font-size="10.8" fill="#3a8088" textLength="22.32" lengthAdjust="spacingAndGlyphs" stroke="#3a8088" stroke-width="0.2">2,90</text>
<text x="817.40" y="740.4" font-size="13.4" fill="#1f4f55" textLength="24.82" lengthAdjust="spacingAndGlyphs" >2,45</text>
<text x="873.17" y="739.9" font-size="10.8" fill="#3a8088" textLength="20.59" lengthAdjust="spacingAndGlyphs" stroke="#3a8088" stroke-width="0.2">2,79</text>
<text x="738.79" y="764.6" font-size="13.4" fill="#1f4f55" textLength="25.43" lengthAdjust="spacingAndGlyphs" >0,92</text>
<text x="783.74" y="764.6" font-size="10.8" fill="#3a8088" textLength="22.55" lengthAdjust="spacingAndGlyphs" stroke="#3a8088" stroke-width="0.2">0,99</text>
<text x="697.49" y="789.4" font-size="13.4" fill="#1f4f55" textLength="25.65" lengthAdjust="spacingAndGlyphs" >0,07</text>
<text x="734.23" y="789.0" font-size="10.8" fill="#3a8088" textLength="22.96" lengthAdjust="spacingAndGlyphs" stroke="#3a8088" stroke-width="0.2">0,08</text>
<circle cx="788.3" cy="813.7" r="2.6" fill="#8fa8a8" stroke="#9a9a9a" stroke-width="0.5" />
<text x="793.80" y="817.5" font-size="9.8" fill="#555555" textLength="44.14" lengthAdjust="spacingAndGlyphs" stroke="#555555" stroke-width="0.2">июн.2023</text>
<circle cx="862.1" cy="813.7" r="2.9" fill="#1f5258" />
<text x="868.61" y="817.5" font-size="9.8" fill="#555555" textLength="43.22" lengthAdjust="spacingAndGlyphs" stroke="#555555" stroke-width="0.2">июл.2023</text>
<text x="503.80" y="851.0" font-size="11.2" fill="#000" textLength="218.64" lengthAdjust="spacingAndGlyphs" >* по сравнению с предыдущим месяцем</text>
<text x="1198.52" y="53.8" font-size="15.5" fill="#000" textLength="255.51" lengthAdjust="spacingAndGlyphs" >Структура депозитов по валютам</text>
<line x1="1199.0" y1="55.5" x2="1456.5" y2="55.5" stroke="#000" stroke-width="1.1" />
<text x="988.93" y="77.7" font-size="12.8" fill="#000" textLength="449.59" lengthAdjust="spacingAndGlyphs" >Вновь привлеченные депозиты в национальной валюте от юридических</text>
<text x="989.70" y="92.9" font-size="12.8" fill="#000" textLength="338.32" lengthAdjust="spacingAndGlyphs" >лиц увеличились, а в иностранной валюте снизились*.</text>
<rect shape-rendering="crispEdges" x="1033.1" y="104.9" width="363.5" height="24.0" fill="#a9b5a2" />
<rect shape-rendering="crispEdges" x="1033.1" y="128.9" width="257.0" height="23.7" fill="#58261f" />
<rect shape-rendering="crispEdges" x="1290.1" y="128.9" width="106.5" height="23.7" fill="#22535a" />
<rect shape-rendering="crispEdges" x="1033.1" y="128.0" width="363.5" height="1.0" fill="#b9c1b3" />
<text x="1151.94" y="120.0" font-size="12.8" fill="#000" textLength="120.09" lengthAdjust="spacingAndGlyphs" >всего 631,9 млн лей</text>
<text x="1277.13" y="120.0" font-size="12.8" fill="#c20010" textLength="46.78" lengthAdjust="spacingAndGlyphs" >(-3,9%)</text>
<text x="1143.30" y="145.2" font-size="12.8" fill="#f2e6e2" textLength="36.48" lengthAdjust="spacingAndGlyphs" >70,7%</text>
<text x="1324.79" y="145.0" font-size="12.8" fill="#e6eff0" textLength="37.50" lengthAdjust="spacingAndGlyphs" >29,3%</text>
<circle cx="1006.0" cy="137.7" r="17.0" fill="#5c2822" />
<circle cx="1006.0" cy="137.7" r="15.2" fill="none" stroke="#a87f76" stroke-width="0.8" />
<text x="994.05" y="140.6" font-size="11.2" fill="#f4f0ee" textLength="24.00" lengthAdjust="spacingAndGlyphs" stroke="#f4f0ee" stroke-width="0.45">MDL</text>
<circle cx="1420.7" cy="134.2" r="11.7" fill="#f9f9f9" />
<circle cx="1420.7" cy="134.2" r="11.0" fill="#255559" />
<circle cx="1420.7" cy="134.2" r="9.8" fill="none" stroke="#55807f" stroke-width="0.7" />
<text x="1419.9" y="140.2" font-size="17" fill="#eef2f2" stroke="#eef2f2" stroke-width="0.2" text-anchor="middle">€</text>
<circle cx="1441.4" cy="131.5" r="11.3" fill="#f9f9f9" />
<circle cx="1441.4" cy="131.5" r="10.6" fill="#255559" />
<circle cx="1441.4" cy="131.5" r="9.4" fill="none" stroke="#55807f" stroke-width="0.7" />
<text x="1441.7" y="136.5" font-size="15" fill="#e8eeee" stroke="#e8eeee" stroke-width="0.2" text-anchor="middle">¥</text>
<circle cx="1433.6" cy="143.8" r="11.7" fill="#f9f9f9" />
<circle cx="1433.6" cy="143.8" r="11.0" fill="#255559" />
<circle cx="1433.6" cy="143.8" r="9.8" fill="none" stroke="#55807f" stroke-width="0.7" />
<text x="1433.6" y="149.4" font-size="16.5" font-weight="400" fill="#eef2f2" stroke="#eef2f2" stroke-width="0.3" text-anchor="middle">$</text>
<text x="1038.91" y="169.6" font-size="10" fill="#000" textLength="38.44" lengthAdjust="spacingAndGlyphs" stroke="#000" stroke-width="0.2">млн лей</text>
<text x="1294.01" y="169.4" font-size="10" fill="#000" textLength="38.54" lengthAdjust="spacingAndGlyphs" stroke="#000" stroke-width="0.2">млн лей</text>
<line x1="1046.5" y1="175.7" x2="1046.5" y2="238.5" stroke="#d0d0d0" stroke-width="0.8" />
<rect shape-rendering="crispEdges" x="1047.1" y="178.2" width="25.9" height="18.4" fill="#58261f" />
<rect shape-rendering="crispEdges" x="1047.1" y="199.2" width="23.6" height="18.4" fill="#9d7c77" />
<text x="1074.90" y="189.9" font-size="11.6" fill="#5a2a22" textLength="29.80" lengthAdjust="spacingAndGlyphs" >446,6</text>
<text x="1073.70" y="211.6" font-size="11.6" fill="#5a2a22" textLength="29.13" lengthAdjust="spacingAndGlyphs" >420,4</text>
<text x="993.60" y="190.7" font-size="10" fill="#555555" textLength="43.73" lengthAdjust="spacingAndGlyphs" stroke="#555555" stroke-width="0.2">июл.2023</text>
<text x="993.60" y="211.6" font-size="10" fill="#555555" textLength="43.74" lengthAdjust="spacingAndGlyphs" stroke="#555555" stroke-width="0.2">июн.2023</text>
<text x="990.30" y="233.0" font-size="10" fill="#555555" textLength="46.74" lengthAdjust="spacingAndGlyphs" stroke="#555555" stroke-width="0.2">динамика</text>
<text x="1063.50" y="233.3" font-size="13" fill="#2a8a2a" textLength="9.29" lengthAdjust="spacingAndGlyphs" >&gt;</text>
<text x="1076.29" y="233.3" font-size="13" fill="#2a8a2a" textLength="37.29" lengthAdjust="spacingAndGlyphs" >+6,2%</text>
<rect shape-rendering="crispEdges" x="1294.0" y="178.0" width="9.9" height="18.7" fill="#22535a" />
<rect shape-rendering="crispEdges" x="1294.0" y="199.1" width="11.9" height="18.9" fill="#7b9a9d" />
<text x="1305.93" y="191.9" font-size="11.2" fill="#24575e" textLength="26.73" lengthAdjust="spacingAndGlyphs" >185,2</text>
<text x="1310.95" y="212.6" font-size="11.2" fill="#24575e" textLength="28.03" lengthAdjust="spacingAndGlyphs" >236,9</text>
<text x="1303.55" y="233.3" font-size="13" fill="#8b1c1c" textLength="10.19" lengthAdjust="spacingAndGlyphs" >&lt;</text>
<text x="1318.90" y="233.3" font-size="13" fill="#c20010" textLength="40.68" lengthAdjust="spacingAndGlyphs" >-21,8%</text>
<text x="1222.01" y="252.2" font-size="15.5" fill="#000" textLength="233.36" lengthAdjust="spacingAndGlyphs" >Сроки размещения депозитов</text>
<line x1="1222.5" y1="254.5" x2="1456.5" y2="254.5" stroke="#000" stroke-width="1.1" />
<text x="986.13" y="271.2" font-size="12.4" fill="#000" textLength="469.11" lengthAdjust="spacingAndGlyphs" >Юридические лица, в основном, размещали свои средства в национальной</text>
<text x="986.14" y="287.5" font-size="12.4" fill="#000" textLength="470.48" lengthAdjust="spacingAndGlyphs" >валюте на депозитных счетах сроком от 6 до 12 месяцев и до 1 месяца, а для</text>
<text x="986.90" y="303.2" font-size="12.4" fill="#000" textLength="410.47" lengthAdjust="spacingAndGlyphs" >депозитов в иностранной валюте отдавали предпочтение депозитам со</text>
<text x="986.52" y="320.2" font-size="12.4" fill="#000" textLength="198.61" lengthAdjust="spacingAndGlyphs" >сроком 1 – 5 лет и 3 – 6 месяцев.</text>
<text x="995.92" y="354.2" font-size="12.8" fill="#000" textLength="96.32" lengthAdjust="spacingAndGlyphs" >объем, млн лей</text>
<circle cx="1115.9" cy="350.9" r="16.5" fill="#5c2822" />
<circle cx="1115.9" cy="350.9" r="14.7" fill="none" stroke="#a87f76" stroke-width="0.8" />
<text x="1104.31" y="353.7" font-size="10.9" fill="#f4f0ee" textLength="23.30" lengthAdjust="spacingAndGlyphs" stroke="#f4f0ee" stroke-width="0.45">MDL</text>
<text x="1258.71" y="350.3" font-size="12.8" fill="#000" textLength="194.67" lengthAdjust="spacingAndGlyphs" >средние процентные ставки, %</text>
<rect shape-rendering="crispEdges" x="1106.0" y="374.9" width="0.9" height="21.4" fill="#5b1f26" />
<text x="1087.09" y="386.8" font-size="11.4" fill="#4a3d2e" textLength="13.86" lengthAdjust="spacingAndGlyphs" >0,1</text>
<text x="1148.32" y="391.6" font-size="10.1" fill="#555555" textLength="29.56" lengthAdjust="spacingAndGlyphs" stroke="#555555" stroke-width="0.2">&gt; 5 лет</text>
<rect shape-rendering="crispEdges" x="1093.2" y="400.0" width="13.7" height="21.4" fill="#5b1f26" />
<text x="1067.10" y="412.0" font-size="11.4" fill="#4a3d2e" textLength="21.58" lengthAdjust="spacingAndGlyphs" >43,9</text>
<text x="1141.21" y="416.7" font-size="10.1" fill="#555555" textLength="36.69" lengthAdjust="spacingAndGlyphs" stroke="#555555" stroke-width="0.2">2 - 5 лет</text>
<rect shape-rendering="crispEdges" x="1092.0" y="424.2" width="14.9" height="21.4" fill="#5b1f26" />
<text x="1066.20" y="434.7" font-size="11.4" fill="#4a3d2e" textLength="21.58" lengthAdjust="spacingAndGlyphs" >48,5</text>
<text x="1136.73" y="440.7" font-size="10.1" fill="#555555" textLength="40.91" lengthAdjust="spacingAndGlyphs" stroke="#555555" stroke-width="0.2">1 - 2 года</text>
<rect shape-rendering="crispEdges" x="1050.1" y="449.3" width="56.8" height="21.4" fill="#5b1f26" />
<text x="1051.84" y="461.7" font-size="11.4" fill="#efe4d8" textLength="26.42" lengthAdjust="spacingAndGlyphs" >182,8</text>
<text x="1113.21" y="464.7" font-size="10.1" fill="#555555" textLength="64.82" lengthAdjust="spacingAndGlyphs" stroke="#555555" stroke-width="0.2">6 - 12 месяцев</text>
<rect shape-rendering="crispEdges" x="1096.2" y="474.1" width="10.7" height="21.4" fill="#5b1f26" />
<text x="1072.84" y="486.7" font-size="11.4" fill="#4a3d2e" textLength="19.81" lengthAdjust="spacingAndGlyphs" >34,1</text>
<text x="1121.55" y="488.6" font-size="10.1" fill="#555555" textLength="56.50" lengthAdjust="spacingAndGlyphs" stroke="#555555" stroke-width="0.2">3-6 месяцев</text>
<rect shape-rendering="crispEdges" x="1102.2" y="498.3" width="4.7" height="21.4" fill="#5b1f26" />
<text x="1078.35" y="511.5" font-size="11.4" fill="#4a3d2e" textLength="20.31" lengthAdjust="spacingAndGlyphs" >13,8</text>
<text x="1128.52" y="513.6" font-size="10.1" fill="#555555" textLength="49.12" lengthAdjust="spacingAndGlyphs" stroke="#555555" stroke-width="0.2">1-3 месяца</text>
<rect shape-rendering="crispEdges" x="1069.3" y="523.3" width="37.6" height="21.4" fill="#5b1f26" />
<text x="1071.55" y="535.7" font-size="11.4" fill="#efe4d8" textLength="26.09" lengthAdjust="spacingAndGlyphs" >123,4</text>
<text x="1131.13" y="538.0" font-size="10.1" fill="#555555" textLength="46.52" lengthAdjust="spacingAndGlyphs" stroke="#555555" stroke-width="0.2">&lt; 1 месяца</text>
<line x1="1186.5" y1="376.4" x2="1186.5" y2="546.2" stroke="#d0d0d0" stroke-width="0.8" />
<circle cx="1188.0" cy="389.1" r="2.8" fill="#a88e8a" stroke="#8a7a78" stroke-width="0.6" />
<line x1="1188.0" y1="389.5" x2="1186.9" y2="389.5" stroke="#2f7f2f" stroke-width="1.0" />
<path d="M1183.5,386.1 L1186.9,389.1 L1183.5,392.1" fill="none" stroke="#2f7f2f" stroke-width="0.9"/>
<circle cx="1189.5" cy="389.1" r="3.0" fill="#5a1f1f" />
<circle cx="1307.0" cy="412.9" r="2.8" fill="#a88e8a" stroke="#8a7a78" stroke-width="0.6" />
<line x1="1307.0" y1="412.5" x2="1383.2" y2="412.5" stroke="#2f7f2f" stroke-width="1.0" />
<path d="M1379.8,409.9 L1383.2,412.9 L1379.8,415.9" fill="none" stroke="#2f7f2f" stroke-width="0.9"/>
<circle cx="1385.8" cy="412.9" r="3.0" fill="#5a1f1f" />
<circle cx="1347.1" cy="436.6" r="2.8" fill="#a88e8a" stroke="#8a7a78" stroke-width="0.6" />
<line x1="1347.1" y1="436.5" x2="1305.6" y2="436.5" stroke="#9e2b2b" stroke-width="1.0" />
<path d="M1309.0,433.6 L1305.6,436.6 L1309.0,439.6" fill="none" stroke="#9e2b2b" stroke-width="0.9"/>
<circle cx="1303.0" cy="436.6" r="3.0" fill="#5a1f1f" />
<circle cx="1332.8" cy="460.9" r="2.8" fill="#a88e8a" stroke="#8a7a78" stroke-width="0.6" />
<line x1="1332.8" y1="460.5" x2="1327.9" y2="460.5" stroke="#9e2b2b" stroke-width="1.0" />
<path d="M1331.3,457.9 L1327.9,460.9 L1331.3,463.9" fill="none" stroke="#9e2b2b" stroke-width="0.9"/>
<circle cx="1325.3" cy="460.9" r="3.0" fill="#5a1f1f" />
<circle cx="1320.8" cy="486.1" r="2.8" fill="#a88e8a" stroke="#8a7a78" stroke-width="0.6" />
<line x1="1320.8" y1="486.5" x2="1310.6" y2="486.5" stroke="#9e2b2b" stroke-width="1.0" />
<path d="M1314.0,483.1 L1310.6,486.1 L1314.0,489.1" fill="none" stroke="#9e2b2b" stroke-width="0.9"/>
<circle cx="1308.0" cy="486.1" r="3.0" fill="#5a1f1f" />
<circle cx="1292.2" cy="509.8" r="2.8" fill="#a88e8a" stroke="#8a7a78" stroke-width="0.6" />
<line x1="1292.2" y1="509.5" x2="1283.7" y2="509.5" stroke="#9e2b2b" stroke-width="1.0" />
<path d="M1287.1,506.8 L1283.7,509.8 L1287.1,512.8" fill="none" stroke="#9e2b2b" stroke-width="0.9"/>
<circle cx="1281.1" cy="509.8" r="3.0" fill="#5a1f1f" />
<circle cx="1230.9" cy="534.0" r="2.8" fill="#a88e8a" stroke="#8a7a78" stroke-width="0.6" />
<line x1="1230.9" y1="534.5" x2="1225.2" y2="534.5" stroke="#9e2b2b" stroke-width="1.0" />
<path d="M1228.6,531.0 L1225.2,534.0 L1228.6,537.0" fill="none" stroke="#9e2b2b" stroke-width="0.9"/>
<circle cx="1222.6" cy="534.0" r="3.0" fill="#5a1f1f" />
<text x="1194.71" y="383.3" font-size="13.4" fill="#3a3636" textLength="23.99" lengthAdjust="spacingAndGlyphs" >0,16</text>
<text x="1189.37" y="403.6" font-size="10.8" fill="#454040" textLength="20.56" lengthAdjust="spacingAndGlyphs" stroke="#454040" stroke-width="0.2">0,10</text>
<text x="1279.20" y="415.3" font-size="10.8" fill="#454040" textLength="21.83" lengthAdjust="spacingAndGlyphs" stroke="#454040" stroke-width="0.2">4,84</text>
<text x="1393.71" y="415.3" font-size="13.4" fill="#3a3636" textLength="23.99" lengthAdjust="spacingAndGlyphs" >7,98</text>
<text x="1273.40" y="440.4" font-size="13.4" fill="#3a3636" textLength="25.12" lengthAdjust="spacingAndGlyphs" >4,68</text>
<text x="1353.65" y="438.5" font-size="10.8" fill="#454040" textLength="21.98" lengthAdjust="spacingAndGlyphs" stroke="#454040" stroke-width="0.2">6,44</text>
<text x="1299.01" y="464.2" font-size="13.4" fill="#3a3636" textLength="23.89" lengthAdjust="spacingAndGlyphs" >5,57</text>
<text x="1338.74" y="463.6" font-size="10.8" fill="#454040" textLength="20.29" lengthAdjust="spacingAndGlyphs" stroke="#454040" stroke-width="0.2">5,87</text>
<text x="1275.30" y="487.5" font-size="13.4" fill="#3a3636" textLength="24.72" lengthAdjust="spacingAndGlyphs" >4,88</text>
<text x="1330.53" y="487.5" font-size="10.8" fill="#454040" textLength="21.24" lengthAdjust="spacingAndGlyphs" stroke="#454040" stroke-width="0.2">5,39</text>
<text x="1251.92" y="513.6" font-size="13.4" fill="#3a3636" textLength="22.77" lengthAdjust="spacingAndGlyphs" >3,81</text>
<text x="1303.60" y="512.7" font-size="10.8" fill="#454040" textLength="21.07" lengthAdjust="spacingAndGlyphs" stroke="#454040" stroke-width="0.2">4,25</text>
<text x="1191.23" y="537.3" font-size="13.4" fill="#3a3636" textLength="23.98" lengthAdjust="spacingAndGlyphs" >1,48</text>
<text x="1241.01" y="537.3" font-size="10.8" fill="#454040" textLength="18.32" lengthAdjust="spacingAndGlyphs" stroke="#454040" stroke-width="0.2">1,81</text>
<circle cx="1303.4" cy="560.5" r="2.6" fill="#a88e8a" stroke="#9a9a9a" stroke-width="0.5" />
<text x="1309.61" y="564.0" font-size="9.8" fill="#555555" textLength="43.43" lengthAdjust="spacingAndGlyphs" stroke="#555555" stroke-width="0.2">июн.2023</text>
<circle cx="1383.1" cy="560.5" r="2.9" fill="#5a1f1f" />
<text x="1389.61" y="564.0" font-size="9.8" fill="#555555" textLength="43.53" lengthAdjust="spacingAndGlyphs" stroke="#555555" stroke-width="0.2">июл.2023</text>
<text x="992.92" y="598.4" font-size="12.8" fill="#000" textLength="95.91" lengthAdjust="spacingAndGlyphs" >объем, млн лей</text>
<circle cx="1104.8" cy="592.1" r="11.7" fill="#f9f9f9" />
<circle cx="1104.8" cy="592.1" r="11.0" fill="#255559" />
<circle cx="1104.8" cy="592.1" r="9.8" fill="none" stroke="#55807f" stroke-width="0.7" />
<text x="1104.0" y="598.1" font-size="17" fill="#eef2f2" stroke="#eef2f2" stroke-width="0.2" text-anchor="middle">€</text>
<circle cx="1125.3" cy="590.2" r="11.3" fill="#f9f9f9" />
<circle cx="1125.3" cy="590.2" r="10.6" fill="#255559" />
<circle cx="1125.3" cy="590.2" r="9.4" fill="none" stroke="#55807f" stroke-width="0.7" />
<text x="1125.6" y="595.2" font-size="15" fill="#e8eeee" stroke="#e8eeee" stroke-width="0.2" text-anchor="middle">¥</text>
<circle cx="1117.9" cy="601.9" r="11.7" fill="#f9f9f9" />
<circle cx="1117.9" cy="601.9" r="11.0" fill="#255559" />
<circle cx="1117.9" cy="601.9" r="9.8" fill="none" stroke="#55807f" stroke-width="0.7" />
<text x="1117.9" y="607.5" font-size="16.5" font-weight="400" fill="#eef2f2" stroke="#eef2f2" stroke-width="0.3" text-anchor="middle">$</text>
<text x="1258.71" y="599.8" font-size="12.8" fill="#000" textLength="194.67" lengthAdjust="spacingAndGlyphs" >средние процентные ставки, %</text>
<rect shape-rendering="crispEdges" x="1104.1" y="622.0" width="3.7" height="20.6" fill="#22535a" />
<text x="1083.52" y="636.6" font-size="11.4" fill="#24575e" textLength="15.84" lengthAdjust="spacingAndGlyphs" >5,0</text>
<text x="1146.92" y="632.8" font-size="10.1" fill="#555555" textLength="29.56" lengthAdjust="spacingAndGlyphs" stroke="#555555" stroke-width="0.2">&gt; 5 лет</text>
<rect shape-rendering="crispEdges" x="1065.1" y="648.1" width="42.7" height="20.6" fill="#22535a" />
<text x="1042.36" y="659.7" font-size="11.4" fill="#24575e" textLength="17.87" lengthAdjust="spacingAndGlyphs" >51,1</text>
<text x="1139.81" y="659.0" font-size="10.1" fill="#555555" textLength="36.69" lengthAdjust="spacingAndGlyphs" stroke="#555555" stroke-width="0.2">2 - 5 лет</text>
<rect shape-rendering="crispEdges" x="1071.0" y="673.2" width="36.8" height="20.6" fill="#22535a" />
<text x="1044.70" y="684.9" font-size="11.4" fill="#24575e" textLength="21.58" lengthAdjust="spacingAndGlyphs" >44,2</text>
<text x="1135.33" y="684.9" font-size="10.1" fill="#555555" textLength="40.91" lengthAdjust="spacingAndGlyphs" stroke="#555555" stroke-width="0.2">1 - 2 года</text>
<rect shape-rendering="crispEdges" x="1095.0" y="698.2" width="12.8" height="20.6" fill="#22535a" />
<text x="1070.45" y="713.8" font-size="11.4" fill="#24575e" textLength="20.31" lengthAdjust="spacingAndGlyphs" >15,5</text>
<text x="1111.81" y="710.5" font-size="10.1" fill="#555555" textLength="64.82" lengthAdjust="spacingAndGlyphs" stroke="#555555" stroke-width="0.2">6 - 12 месяцев</text>
<rect shape-rendering="crispEdges" x="1078.2" y="724.2" width="29.6" height="20.6" fill="#22535a" />
<text x="1052.43" y="738.5" font-size="11.4" fill="#24575e" textLength="21.75" lengthAdjust="spacingAndGlyphs" >36,5</text>
<text x="1120.15" y="736.9" font-size="10.1" fill="#555555" textLength="56.50" lengthAdjust="spacingAndGlyphs" stroke="#555555" stroke-width="0.2">3-6 месяцев</text>
<rect shape-rendering="crispEdges" x="1102.0" y="749.0" width="5.8" height="20.6" fill="#22535a" />
<text x="1084.09" y="763.9" font-size="11.4" fill="#24575e" textLength="13.86" lengthAdjust="spacingAndGlyphs" >8,1</text>
<text x="1127.12" y="762.7" font-size="10.1" fill="#555555" textLength="49.12" lengthAdjust="spacingAndGlyphs" stroke="#555555" stroke-width="0.2">1-3 месяца</text>
<rect shape-rendering="crispEdges" x="1088.1" y="774.0" width="19.7" height="20.6" fill="#22535a" />
<text x="1058.45" y="788.7" font-size="11.4" fill="#24575e" textLength="21.93" lengthAdjust="spacingAndGlyphs" >24,8</text>
<text x="1129.73" y="788.7" font-size="10.1" fill="#555555" textLength="46.52" lengthAdjust="spacingAndGlyphs" stroke="#555555" stroke-width="0.2">&lt; 1 месяца</text>
<line x1="1185.5" y1="617.5" x2="1185.5" y2="797.5" stroke="#d0d0d0" stroke-width="0.8" />
<circle cx="1297.8" cy="630.2" r="2.8" fill="#8fa8a8" stroke="#7f9898" stroke-width="0.6" />
<line x1="1297.8" y1="630.5" x2="1262.4" y2="630.5" stroke="#9e2b2b" stroke-width="1.0" />
<path d="M1265.8,627.2 L1262.4,630.2 L1265.8,633.2" fill="none" stroke="#9e2b2b" stroke-width="0.9"/>
<circle cx="1259.8" cy="630.2" r="3.0" fill="#1f5258" />
<circle cx="1395.1" cy="656.0" r="2.8" fill="#8fa8a8" stroke="#7f9898" stroke-width="0.6" />
<circle cx="1395.1" cy="656.0" r="3.0" fill="#1f5258" />
<circle cx="1373.8" cy="681.0" r="2.8" fill="#8fa8a8" stroke="#7f9898" stroke-width="0.6" />
<line x1="1373.8" y1="681.5" x2="1411.5" y2="681.5" stroke="#2f7f2f" stroke-width="1.0" />
<path d="M1408.1,678.0 L1411.5,681.0 L1408.1,684.0" fill="none" stroke="#2f7f2f" stroke-width="0.9"/>
<circle cx="1414.1" cy="681.0" r="3.0" fill="#1f5258" />
<circle cx="1322.9" cy="707.1" r="2.8" fill="#8fa8a8" stroke="#7f9898" stroke-width="0.6" />
<line x1="1322.9" y1="707.5" x2="1287.5" y2="707.5" stroke="#9e2b2b" stroke-width="1.0" />
<path d="M1290.9,704.1 L1287.5,707.1 L1290.9,710.1" fill="none" stroke="#9e2b2b" stroke-width="0.9"/>
<circle cx="1284.9" cy="707.1" r="3.0" fill="#1f5258" />
<circle cx="1271.2" cy="733.0" r="2.8" fill="#8fa8a8" stroke="#7f9898" stroke-width="0.6" />
<line x1="1271.2" y1="733.5" x2="1345.4" y2="733.5" stroke="#2f7f2f" stroke-width="1.0" />
<path d="M1342.0,730.0 L1345.4,733.0 L1342.0,736.0" fill="none" stroke="#2f7f2f" stroke-width="0.9"/>
<circle cx="1348.0" cy="733.0" r="3.0" fill="#1f5258" />
<circle cx="1215.7" cy="758.8" r="2.8" fill="#8fa8a8" stroke="#7f9898" stroke-width="0.6" />
<circle cx="1215.7" cy="758.8" r="3.0" fill="#1f5258" />
<circle cx="1214.2" cy="784.9" r="2.8" fill="#8fa8a8" stroke="#7f9898" stroke-width="0.6" />
<circle cx="1214.2" cy="784.9" r="3.0" fill="#1f5258" />
<text x="1228.61" y="635.5" font-size="13.4" fill="#1f4f55" textLength="24.60" lengthAdjust="spacingAndGlyphs" >1,00</text>
<text x="1308.25" y="633.5" font-size="10.8" fill="#3a8088" textLength="20.38" lengthAdjust="spacingAndGlyphs" stroke="#3a8088" stroke-width="0.2">1,50</text>
<text x="1367.27" y="659.9" font-size="10.8" fill="#3a8088" textLength="20.29" lengthAdjust="spacingAndGlyphs" stroke="#3a8088" stroke-width="0.2">2,78</text>
<text x="1400.92" y="661.2" font-size="13.4" fill="#1f4f55" textLength="23.89" lengthAdjust="spacingAndGlyphs" >2,78</text>
<text x="1342.76" y="684.5" font-size="10.8" fill="#3a8088" textLength="21.39" lengthAdjust="spacingAndGlyphs" stroke="#3a8088" stroke-width="0.2">2,50</text>
<text x="1418.50" y="685.4" font-size="13.4" fill="#1f4f55" textLength="24.92" lengthAdjust="spacingAndGlyphs" >3,03</text>
<text x="1254.46" y="710.3" font-size="13.4" fill="#1f4f55" textLength="23.14" lengthAdjust="spacingAndGlyphs" >1,33</text>
<text x="1328.95" y="709.4" font-size="10.8" fill="#3a8088" textLength="20.31" lengthAdjust="spacingAndGlyphs" stroke="#3a8088" stroke-width="0.2">1,83</text>
<text x="1242.41" y="737.5" font-size="10.8" fill="#3a8088" textLength="18.22" lengthAdjust="spacingAndGlyphs" stroke="#3a8088" stroke-width="0.2">1,15</text>
<text x="1353.03" y="737.5" font-size="13.4" fill="#1f4f55" textLength="22.96" lengthAdjust="spacingAndGlyphs" >2,16</text>
<text x="1226.49" y="762.7" font-size="13.4" fill="#1f4f55" textLength="25.54" lengthAdjust="spacingAndGlyphs" >0,42</text>
<text x="1187.04" y="787.3" font-size="10.8" fill="#3a8088" textLength="22.53" lengthAdjust="spacingAndGlyphs" stroke="#3a8088" stroke-width="0.2">0,40</text>
<text x="1220.67" y="788.8" font-size="13.4" fill="#1f4f55" textLength="26.68" lengthAdjust="spacingAndGlyphs" >0,40</text>
<circle cx="1321.8" cy="819.4" r="2.6" fill="#8fa8a8" stroke="#9a9a9a" stroke-width="0.5" />
<text x="1328.21" y="822.7" font-size="9.8" fill="#555555" textLength="43.43" lengthAdjust="spacingAndGlyphs" stroke="#555555" stroke-width="0.2">июн.2023</text>
<circle cx="1395.5" cy="819.4" r="2.9" fill="#1f5258" />
<text x="1401.81" y="822.7" font-size="9.8" fill="#555555" textLength="42.92" lengthAdjust="spacingAndGlyphs" stroke="#555555" stroke-width="0.2">июл.2023</text>
<text x="989.90" y="852.2" font-size="11.2" fill="#000" textLength="218.84" lengthAdjust="spacingAndGlyphs" >* по сравнению с предыдущим месяцем</text>
</svg>
</body></html>
